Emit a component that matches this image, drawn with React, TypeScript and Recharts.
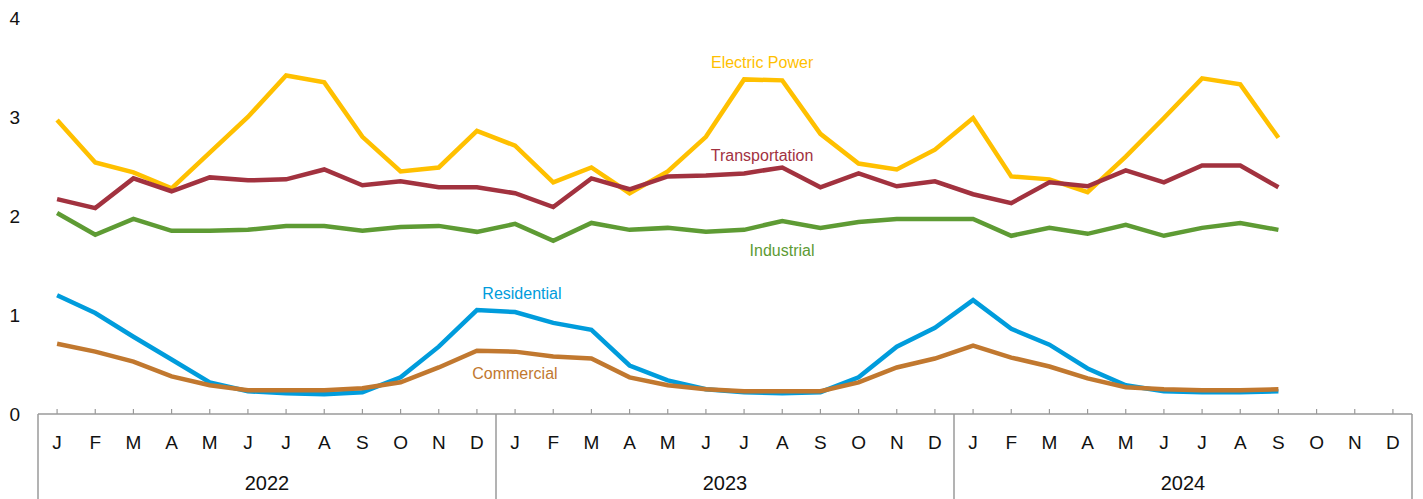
import { LineChart, Line, XAxis, YAxis } from "recharts";

const YEARS = [2022, 2023, 2024];
const MONTHS = ["J", "F", "M", "A", "M", "J", "J", "A", "S", "O", "N", "D"];
const Y_TICKS = [0, 1, 2, 3, 4];

// monthly values, Jan 2022 .. Dec 2024 (null = no data yet)
const electricPower = [
  2.97, 2.54, 2.44, 2.28, 2.64, 3.0, 3.42, 3.35, 2.8, 2.45, 2.49, 2.86,
  2.71, 2.34, 2.49, 2.23, 2.45, 2.8, 3.38, 3.37, 2.83, 2.53, 2.47, 2.67,
  2.99, 2.4, 2.37, 2.24, 2.6, 2.99, 3.39, 3.33, 2.79, null, null, null,
];
const transportation = [
  2.17, 2.08, 2.38, 2.25, 2.39, 2.36, 2.37, 2.47, 2.31, 2.35, 2.29, 2.29,
  2.23, 2.09, 2.38, 2.27, 2.4, 2.41, 2.43, 2.49, 2.29, 2.43, 2.3, 2.35,
  2.22, 2.13, 2.34, 2.3, 2.46, 2.34, 2.51, 2.51, 2.29, null, null, null,
];
const industrial = [
  2.03, 1.81, 1.97, 1.85, 1.85, 1.86, 1.9, 1.9, 1.85, 1.89, 1.9, 1.84,
  1.92, 1.75, 1.93, 1.86, 1.88, 1.84, 1.86, 1.95, 1.88, 1.94, 1.97, 1.97,
  1.97, 1.8, 1.88, 1.82, 1.91, 1.8, 1.88, 1.93, 1.86, null, null, null,
];
const residential = [
  1.2, 1.02, 0.78, 0.55, 0.32, 0.23, 0.21, 0.2, 0.22, 0.37, 0.68, 1.05,
  1.03, 0.92, 0.85, 0.49, 0.34, 0.25, 0.22, 0.21, 0.22, 0.37, 0.68, 0.87,
  1.15, 0.86, 0.7, 0.46, 0.29, 0.23, 0.22, 0.22, 0.23, null, null, null,
];
const commercial = [
  0.71, 0.63, 0.53, 0.38, 0.29, 0.24, 0.24, 0.24, 0.26, 0.32, 0.47, 0.64,
  0.63, 0.58, 0.56, 0.37, 0.29, 0.25, 0.23, 0.23, 0.23, 0.32, 0.47, 0.56,
  0.69, 0.57, 0.48, 0.36, 0.27, 0.25, 0.24, 0.24, 0.25, null, null, null,
];

const FONT = "'Liberation Sans', Arial, sans-serif";
const AXIS_GRAY = "#9a9a9a";
const PLOT_LEFT = 38;
const PLOT_RIGHT = 1412;
const STEP = (PLOT_RIGHT - PLOT_LEFT) / 36;

const data = YEARS.flatMap((yr, yi) =>
  MONTHS.map((m, mi) => {
    const i = yi * 12 + mi;
    return {
      key: `${yr}-${mi}`,
      electric: electricPower[i],
      transport: transportation[i],
      industrial: industrial[i],
      residential: residential[i],
      commercial: commercial[i],
    };
  })
);

function MonthTick(props: any) {
  const { x, y, payload } = props;
  const [yr, miStr] = String(payload.value).split("-");
  const mi = Number(miStr);
  const isLast = yr === String(YEARS[YEARS.length - 1]) && mi === 11;
  return (
    <g>
      <line x1={x} x2={x} y1={y - 5} y2={y} stroke={AXIS_GRAY} strokeWidth={1.2} />
      <text
        x={x}
        y={y + 28}
        dy="0.355em"
        textAnchor="middle"
        fontSize={19}
        fontFamily={FONT}
        fill="#111"
      >
        {MONTHS[mi]}
      </text>
      {mi === 0 && (
        <line x1={x - STEP / 2} x2={x - STEP / 2} y1={y} y2={y + 90} stroke={AXIS_GRAY} strokeWidth={1.5} />
      )}
      {isLast && (
        <line x1={x + STEP / 2} x2={x + STEP / 2} y1={y} y2={y + 90} stroke={AXIS_GRAY} strokeWidth={1.5} />
      )}
      {mi === 6 && (
        <text
          x={x - STEP / 2}
          y={y + 69}
          dy="0.355em"
          textAnchor="middle"
          fontSize={20}
          fontFamily={FONT}
          fill="#111"
        >
          {yr}
        </text>
      )}
    </g>
  );
}

// draws the series name next to one chosen point of the line
function seriesLabel(name: string, color: string, at: number, dx: number, dy: number) {
  return (props: any) => {
    if (props.index !== at) return null;
    const px = props.x ?? props.viewBox?.x;
    const py = props.y ?? props.viewBox?.y;
    return (
      <text
        key={name}
        x={px + dx}
        y={py + dy}
        dy="0.355em"
        textAnchor="middle"
        fontSize={16}
        fontFamily={FONT}
        fill={color}
      >
        {name}
      </text>
    );
  };
}

const SERIES = [
  { key: "electric", name: "Electric Power", color: "#FFC000", at: 18, dx: 18, dy: -17 },
  { key: "transport", name: "Transportation", color: "#A2323F", at: 18, dx: 18, dy: -18 },
  { key: "industrial", name: "Industrial", color: "#5E9B34", at: 18, dx: 38, dy: 20 },
  { key: "residential", name: "Residential", color: "#009CDC", at: 11, dx: 45, dy: -17 },
  { key: "commercial", name: "Commercial", color: "#C1782F", at: 11, dx: 38, dy: 23 },
];

export default function App() {
  return (
    <div style={{ position: "absolute", left: 0, top: 0, width: 1423, height: 499, background: "#fff" }}>
      <LineChart
        width={1423}
        height={499}
        data={data}
        margin={{ top: 18, right: 1423 - PLOT_RIGHT, bottom: 0, left: 0 }}
      >
        <XAxis
          dataKey="key"
          interval={0}
          height={85}
          padding={{ left: STEP / 2, right: STEP / 2 }}
          tickSize={0}
          tickMargin={0}
          tickLine={false}
          axisLine={{ stroke: AXIS_GRAY, strokeWidth: 1.5 }}
          tick={<MonthTick />}
        />
        <YAxis
          width={PLOT_LEFT}
          domain={[0, 4]}
          ticks={Y_TICKS}
          axisLine={false}
          tickLine={false}
          tickSize={0}
          tickMargin={18}
          tick={{ fontSize: 19, fontFamily: FONT, fill: "#111" }}
        />
        {SERIES.map((s) => (
          <Line
            key={s.key}
            dataKey={s.key}
            stroke={s.color}
            strokeWidth={4.5}
            dot={false}
            activeDot={false}
            type="linear"
            isAnimationActive={false}
            label={seriesLabel(s.name, s.color, s.at, s.dx, s.dy)}
          />
        ))}
      </LineChart>
    </div>
  );
}
